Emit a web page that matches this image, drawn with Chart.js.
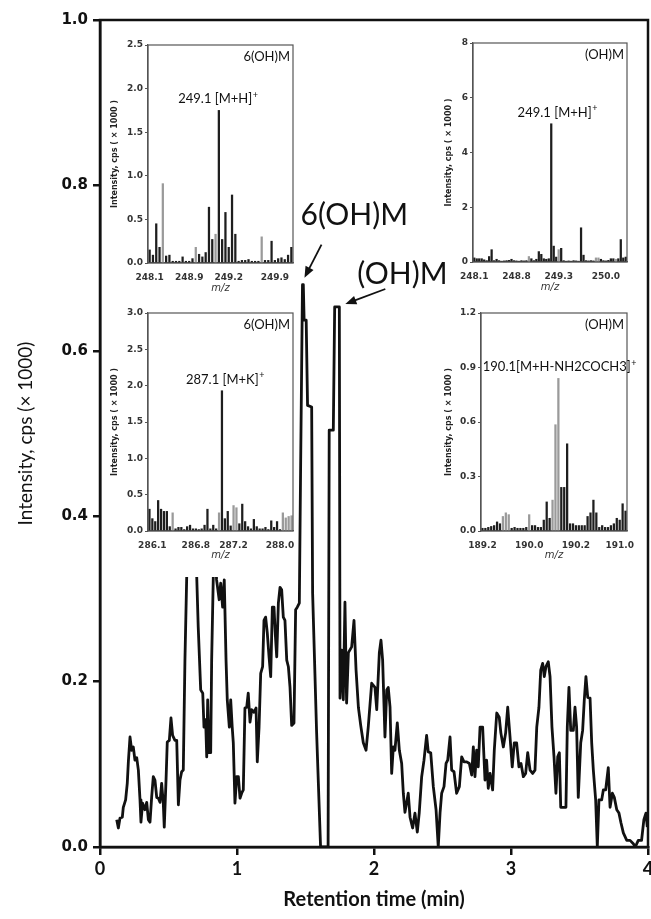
<!DOCTYPE html>
<html>
<head>
<meta charset="utf-8">
<script src="https://cdn.jsdelivr.net/npm/chart.js@4"></script>
<style>
  body { margin: 0; background: #fff; }
  #wrap { position: relative; width: 651px; height: 919px; }
  #wrap canvas { position: absolute; }
</style>
</head>
<body>
<div id="wrap">
  <canvas id="main" width="651" height="919" style="left:0;top:0"></canvas>
  <canvas id="ms1" width="194" height="262" style="left:104px;top:32px"></canvas>
  <canvas id="ms2" width="200" height="262" style="left:444px;top:32px"></canvas>
  <canvas id="ms3" width="194" height="277" style="left:104px;top:300px;background:#fff"></canvas>
  <canvas id="ms4" width="200" height="277" style="left:444px;top:300px"></canvas>
</div>
<script>
// chromatogram (retention time in min, intensity in cps x1000)
var rtMin = [0.122,0.134,0.146,0.163,0.170,0.187,0.199,0.207,0.219,0.231,0.243,0.255,0.268,0.280,0.292,0.299,0.311,0.328,0.341,0.353,0.365,0.377,0.389,0.401,0.414,0.426,0.438,0.450,0.462,0.469,0.482,0.491,0.506,0.518,0.530,0.547,0.560,0.572,0.584,0.596,0.608,0.620,0.633,0.650,0.668,0.690,0.706,0.717,0.735,0.750,0.759,0.771,0.779,0.786,0.796,0.808,0.815,0.827,0.840,0.851,0.870,0.881,0.895,0.907,0.920,0.929,0.944,0.954,0.965,0.973,0.985,0.998,1.010,1.022,1.034,1.046,1.058,1.071,1.082,1.095,1.107,1.124,1.139,1.148,1.161,1.173,1.187,1.197,1.209,1.221,1.234,1.246,1.258,1.270,1.280,1.290,1.302,1.314,1.326,1.338,1.350,1.363,1.375,1.387,1.399,1.416,1.428,1.440,1.455,1.465,1.478,1.484,1.490,1.505,1.515,1.545,1.552,1.581,1.610,1.665,1.673,1.703,1.713,1.747,1.752,1.764,1.776,1.788,1.800,1.813,1.837,1.854,1.869,1.886,1.903,1.922,1.942,1.958,1.983,2.007,2.020,2.039,2.051,2.063,2.080,2.093,2.104,2.117,2.129,2.141,2.153,2.170,2.185,2.202,2.214,2.226,2.250,2.263,2.282,2.299,2.316,2.330,2.348,2.365,2.384,2.396,2.414,2.433,2.453,2.469,2.482,2.494,2.511,2.526,2.538,2.555,2.567,2.584,2.603,2.623,2.640,2.657,2.677,2.696,2.713,2.725,2.737,2.749,2.761,2.774,2.793,2.810,2.822,2.834,2.847,2.866,2.878,2.896,2.914,2.926,2.944,2.961,2.976,2.993,3.009,3.024,3.041,3.058,3.073,3.090,3.107,3.122,3.139,3.158,3.175,3.188,3.204,3.217,3.231,3.243,3.255,3.272,3.285,3.299,3.314,3.328,3.341,3.353,3.363,3.382,3.401,3.411,3.423,3.436,3.455,3.467,3.479,3.491,3.509,3.523,3.535,3.547,3.560,3.577,3.589,3.601,3.618,3.630,3.642,3.662,3.674,3.691,3.710,3.723,3.740,3.754,3.772,3.788,3.803,3.820,3.845,3.869,3.893,3.907,3.929,3.953,3.970,3.985,3.995];
var intensity = [0.033,0.023,0.035,0.036,0.048,0.057,0.077,0.103,0.133,0.117,0.121,0.105,0.108,0.093,0.057,0.030,0.053,0.045,0.054,0.033,0.030,0.060,0.085,0.081,0.060,0.059,0.054,0.077,0.053,0.024,0.081,0.127,0.129,0.156,0.135,0.129,0.129,0.051,0.081,0.091,0.093,0.226,0.327,0.440,0.450,0.400,0.327,0.266,0.190,0.186,0.145,0.154,0.109,0.178,0.114,0.114,0.226,0.327,0.360,0.323,0.299,0.319,0.290,0.323,0.226,0.178,0.145,0.178,0.145,0.126,0.053,0.085,0.085,0.059,0.065,0.069,0.168,0.169,0.186,0.151,0.166,0.163,0.168,0.103,0.145,0.210,0.218,0.274,0.278,0.259,0.230,0.206,0.290,0.290,0.256,0.230,0.295,0.314,0.311,0.278,0.274,0.226,0.218,0.193,0.147,0.150,0.287,0.290,0.295,0.470,0.680,0.680,0.637,0.637,0.534,0.532,0.307,0.139,0.000,0.000,0.504,0.504,0.653,0.653,0.180,0.238,0.178,0.296,0.174,0.235,0.242,0.274,0.214,0.169,0.147,0.126,0.117,0.145,0.198,0.193,0.166,0.235,0.250,0.226,0.133,0.190,0.193,0.169,0.089,0.121,0.117,0.150,0.117,0.101,0.065,0.042,0.065,0.036,0.023,0.041,0.018,0.041,0.085,0.105,0.135,0.115,0.114,0.073,0.045,0.000,0.041,0.065,0.073,0.101,0.105,0.133,0.093,0.091,0.065,0.073,0.109,0.103,0.103,0.101,0.087,0.121,0.085,0.117,0.097,0.145,0.145,0.081,0.105,0.071,0.089,0.069,0.117,0.162,0.157,0.138,0.121,0.138,0.169,0.133,0.097,0.126,0.126,0.097,0.101,0.085,0.089,0.114,0.093,0.089,0.093,0.145,0.169,0.214,0.222,0.206,0.218,0.224,0.206,0.145,0.109,0.065,0.109,0.114,0.048,0.048,0.048,0.145,0.193,0.141,0.141,0.169,0.145,0.060,0.126,0.141,0.178,0.206,0.181,0.180,0.126,0.093,0.057,0.000,0.057,0.057,0.069,0.069,0.096,0.048,0.065,0.060,0.045,0.041,0.029,0.017,0.008,0.008,0.004,0.000,0.008,0.008,0.033,0.041,0.024];
var rtTicks = [0, 1, 2, 3, 4];
var intensityTicks = [0, 0.2, 0.4, 0.6, 0.8, 1.0];

// mass spectra insets
var ms1Values = [0.15,0.09,0.45,0.18,0.91,0.08,0.09,0.02,0.02,0.02,0.07,0.02,0.02,0.05,0.18,0.10,0.07,0.12,0.64,0.27,0.33,1.75,0.27,0.58,0.18,0.78,0.33,0.02,0.03,0.03,0.04,0.02,0.02,0.02,0.30,0.03,0.03,0.25,0.03,0.05,0.06,0.04,0.09,0.18];
var ms1Ticks = {0:'248.1', 12:'248.9', 24:'249.2', 38:'249.9'};
var ms1Gray = [4, 14, 20, 34];

var ms2Values = [0.15,0.12,0.12,0.12,0.08,0.05,0.20,0.45,0.05,0.10,0.05,0.03,0.04,0.05,0.06,0.10,0.05,0.04,0.03,0.05,0.04,0.05,0.20,0.12,0.05,0.10,0.38,0.28,0.12,0.10,0.12,5.05,0.58,0.18,0.45,0.50,0.05,0.03,0.04,0.03,0.05,0.04,0.03,1.25,0.25,0.05,0.04,0.05,0.04,0.15,0.15,0.10,0.05,0.04,0.06,0.12,0.12,0.10,0.12,0.82,0.15,0.18];
var ms2Ticks = {0:'248.1', 17:'248.8', 34:'249.3', 53:'250.0'};
var ms2Gray = [22, 34, 49, 50, 57];

var ms3Values = [0.30,0.17,0.13,0.42,0.30,0.27,0.27,0.06,0.25,0.03,0.05,0.05,0.02,0.06,0.08,0.03,0.03,0.02,0.03,0.08,0.30,0.03,0.08,0.03,0.25,1.93,0.17,0.27,0.07,0.35,0.32,0.10,0.37,0.13,0.06,0.03,0.16,0.06,0.03,0.03,0.05,0.02,0.14,0.05,0.13,0.02,0.25,0.18,0.20,0.21];
var ms3Ticks = {1:'286.1', 16:'286.8', 29:'287.2', 45:'288.0'};
var ms3Gray = [8, 24, 29, 30, 46, 47, 48, 49];

var ms4Values = [0.015,0.015,0.02,0.025,0.03,0.05,0.04,0.08,0.10,0.09,0.015,0.02,0.015,0.015,0.015,0.02,0.09,0.03,0.03,0.02,0.02,0.06,0.16,0.07,0.17,0.585,0.84,0.24,0.24,0.48,0.04,0.04,0.03,0.03,0.03,0.03,0.08,0.10,0.17,0.10,0.02,0.03,0.02,0.02,0.03,0.04,0.07,0.06,0.15,0.11];
var ms4Ticks = {0:'189.2', 16:'190.0', 32:'190.2', 47:'191.0'};
var ms4Gray = [7, 8, 9, 16, 24, 25, 26];

Chart.defaults.font.family = 'Lato';
Chart.defaults.color = '#111';

function supText(ctx, base, sup, x, y, size) {
  ctx.font = size + 'px Lato';
  var w1 = ctx.measureText(base).width;
  ctx.font = Math.round(size * 0.7) + 'px Lato';
  var w2 = ctx.measureText(sup).width;
  var left = x - (w1 + w2) / 2;
  ctx.textAlign = 'left';
  ctx.textBaseline = 'alphabetic';
  ctx.font = size + 'px Lato';
  ctx.fillText(base, left, y);
  ctx.font = Math.round(size * 0.7) + 'px Lato';
  ctx.fillText(sup, left + w1 + 0.5, y - size * 0.42);
}

function arrow(ctx, x1, y1, x2, y2) {
  var ang = Math.atan2(y2 - y1, x2 - x1), L = 11, W = 4.5;
  ctx.beginPath();
  ctx.moveTo(x1, y1);
  ctx.lineTo(x2 - Math.cos(ang) * L * 0.8, y2 - Math.sin(ang) * L * 0.8);
  ctx.stroke();
  ctx.beginPath();
  ctx.moveTo(x2, y2);
  ctx.lineTo(x2 - Math.cos(ang) * L + Math.sin(ang) * W, y2 - Math.sin(ang) * L - Math.cos(ang) * W);
  ctx.lineTo(x2 - Math.cos(ang) * L - Math.sin(ang) * W, y2 - Math.sin(ang) * L + Math.cos(ang) * W);
  ctx.closePath();
  ctx.fill();
}

function peakIndex(lo, hi, last) {
  var best = -1;
  for (var i = 0; i < rtMin.length; i++) {
    if (rtMin[i] < lo || rtMin[i] > hi) continue;
    if (best < 0 || intensity[i] > intensity[best] || (last && intensity[i] === intensity[best])) best = i;
  }
  return best;
}

var mainDecor = {
  id: 'mainDecor',
  afterDraw: function(chart) {
    var ctx = chart.ctx, a = chart.chartArea, xs = chart.scales.x, ys = chart.scales.y;
    ctx.save();
    ctx.strokeStyle = '#111';
    ctx.lineWidth = 2.5;
    ctx.strokeRect(a.left, a.top, a.right - a.left, a.bottom - a.top);

    ctx.fillStyle = '#111';
    ctx.lineWidth = 1.8;
    ctx.font = '30px Lato';
    ctx.textAlign = 'left';
    ctx.textBaseline = 'middle';

    var i1 = peakIndex(1.4, 1.6, false);
    var px = xs.getPixelForValue(rtMin[i1]), py = ys.getPixelForValue(intensity[i1]);
    ctx.fillText('6(OH)M', px - 2, py - 69);
    arrow(ctx, px + 19, py - 40, px + 2, py - 7);

    var i2 = peakIndex(1.65, 1.8, true);
    var qx = xs.getPixelForValue(rtMin[i2]), qy = ys.getPixelForValue(intensity[i2]);
    ctx.fillText('(OH)M', qx + 18, qy - 33);
    arrow(ctx, qx + 46, qy - 18, qx + 6, qy - 3);
    ctx.restore();
  }
};

new Chart(document.getElementById('main'), {
  type: 'line',
  data: {
    datasets: [{
      data: rtMin.map(function(t, i) { return {x: t, y: intensity[i]}; }),
      borderColor: '#111',
      borderWidth: 2.8,
      pointRadius: 0,
      tension: 0,
      borderJoinStyle: 'round'
    }]
  },
  options: {
    responsive: false,
    animation: false,
    layout: {padding: {top: 20, right: 3, left: 0, bottom: 0}},
    plugins: {legend: {display: false}, tooltip: {enabled: false}},
    scales: {
      x: {
        type: 'linear', min: 0, max: 4,
        afterBuildTicks: function(s) { s.ticks = rtTicks.map(function(v) { return {value: v}; }); },
        ticks: {font: {size: 18, weight: 'bold'}, color: '#111', padding: 3},
        grid: {drawOnChartArea: false, tickLength: 8, color: '#111', lineWidth: 2.5},
        border: {color: '#111', width: 2.5},
        title: {display: true, text: 'Retention time (min)', font: {size: 20, weight: 'bold'}, color: '#111', padding: {top: 0, bottom: 7}},
        afterFit: function(s) { s.height = 72; s.paddingLeft = 0; s.paddingRight = 0; }
      },
      y: {
        min: 0, max: 1,
        afterBuildTicks: function(s) { s.ticks = intensityTicks.map(function(v) { return {value: v}; }); },
        ticks: {font: {family: 'DejaVu Sans', size: 15, weight: 'bold'}, color: '#111', padding: 5,
          callback: function(v) { return v.toFixed(1); }},
        grid: {drawOnChartArea: false, tickLength: 7, color: '#111', lineWidth: 2.5},
        border: {color: '#111', width: 2.5},
        title: {display: true, text: 'Intensity, cps (× 1000)', font: {size: 19}, color: '#111', padding: {top: 14, bottom: 0}},
        afterFit: function(s) { s.width = 100; }
      }
    }
  },
  plugins: [mainDecor]
});

var insetDecor = {
  id: 'insetDecor',
  afterDraw: function(chart, args, opts) {
    var ctx = chart.ctx, a = chart.chartArea, xs = chart.scales.x, ys = chart.scales.y;
    ctx.save();
    ctx.strokeStyle = '#555';
    ctx.lineWidth = 1.2;
    ctx.strokeRect(a.left, a.top, a.right - a.left, a.bottom - a.top);
    ctx.fillStyle = '#111';
    ctx.font = '13px Lato';
    ctx.textAlign = 'right';
    ctx.textBaseline = 'middle';
    ctx.fillText(opts.name, a.right - 3, a.top + 12);
    var vals = chart.data.datasets[0].data;
    var pk = vals.indexOf(Math.max.apply(null, vals));
    var px = xs.getPixelForValue(pk), py = ys.getPixelForValue(vals[pk]);
    supText(ctx, opts.ion, '+', px + opts.dx, py - 7, 13);
    ctx.restore();
  }
};

function inset(id, values, tickMap, grayIdx, yMax, yStep, yDigits, o) {
  new Chart(document.getElementById(id), {
    type: 'bar',
    data: {
      labels: values.map(function(v, i) { return tickMap[i] || ''; }),
      datasets: [{
        data: values,
        backgroundColor: function(c) { return grayIdx.indexOf(c.dataIndex) >= 0 ? '#9a9a9a' : '#1e1e1e'; },
        barThickness: 1.6
      }]
    },
    options: {
      responsive: false,
      animation: false,
      layout: {padding: {top: o.top, right: o.right, left: 0, bottom: 0}},
      plugins: {legend: {display: false}, tooltip: {enabled: false}, insetDecor: o},
      scales: {
        x: {
          ticks: {autoSkip: false, maxRotation: 0, padding: 9, font: {family: 'DejaVu Sans', size: 9, weight: 'bold'}, color: '#333'},
          grid: {display: false, drawTicks: false},
          border: {color: '#555', width: 1.2},
          title: {display: true, text: 'm/z', font: {family: 'DejaVu Sans', size: 10, style: 'italic'}, color: '#333', padding: {top: 0, bottom: o.mzPad}},
          afterFit: function(s) { s.height = o.xh; s.paddingLeft = 0; s.paddingRight = 0; }
        },
        y: {
          min: 0, max: yMax,
          ticks: {stepSize: yStep, padding: 2, font: {family: 'DejaVu Sans', size: 9, weight: 'bold'}, color: '#333',
            callback: function(v) { return v.toFixed(yDigits); }},
          grid: {drawOnChartArea: false, tickLength: 3, color: '#555'},
          border: {color: '#555', width: 1.2},
          title: {display: true, text: 'Intensity, cps ( × 1000 )', font: {family: 'DejaVu Sans', size: 8, weight: 'bold'}, color: '#222', padding: {top: o.ytPad, bottom: 0}},
          afterFit: function(s) { s.width = o.yw; }
        }
      }
    },
    plugins: [insetDecor]
  });
}

inset('ms1', ms1Values, ms1Ticks, ms1Gray, 2.5, 0.5, 1,
  {name: '6(OH)M', ion: '249.1 [M+H]', dx: -1, top: 13, right: 5, xh: 31, yw: 44, mzPad: 0, ytPad: 6});
inset('ms2', ms2Values, ms2Ticks, ms2Gray, 8, 2, 0,
  {name: '(OH)M', ion: '249.1 [M+H]', dx: 6, top: 11, right: 17, xh: 32, yw: 29, mzPad: 1, ytPad: 0});
inset('ms3', ms3Values, ms3Ticks, ms3Gray, 3, 0.5, 1,
  {name: '6(OH)M', ion: '287.1 [M+K]', dx: 3, top: 13, right: 5, xh: 46, yw: 44, mzPad: 16, ytPad: 6});
inset('ms4', ms4Values, ms4Ticks, ms4Gray, 1.2, 0.3, 1,
  {name: '(OH)M', ion: '190.1[M+H-NH2COCH3]', dx: 1, top: 13, right: 17, xh: 46, yw: 37, mzPad: 16, ytPad: 0});
</script>
</body>
</html>
